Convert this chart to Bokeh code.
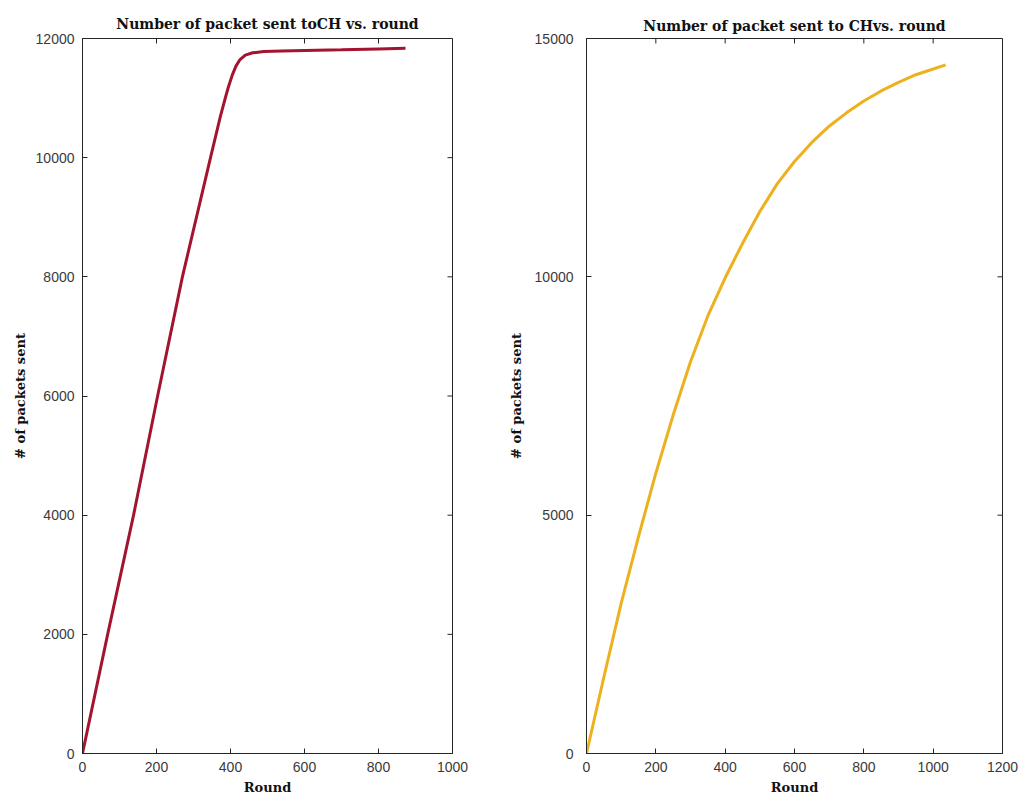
import math
from bokeh.plotting import figure
from bokeh.layouts import row
from bokeh.models import Range1d, FixedTicker
from bokeh.embed import file_html
from bokeh.resources import INLINE

# Left chart data
left_round = [0, 68, 138, 203, 270, 346, 373, 385, 395, 405, 415, 425, 440, 460, 490, 540, 600, 700, 800, 873]
left_packets = [0, 2000, 4000, 6000, 8000, 10000, 10700, 10980, 11200, 11390, 11540, 11640, 11720, 11760, 11780, 11792, 11800, 11810, 11825, 11835]

# Right chart data
right_round = [0, 50, 100, 150, 200, 250, 300, 350, 400, 450, 500, 550, 600, 650, 700, 750, 800, 850, 900, 950, 1000, 1036]
right_packets = [0, 1600, 3150, 4550, 5880, 7100, 8220, 9180, 9980, 10700, 11370, 11950, 12420, 12820, 13160, 13440, 13690, 13900, 14080, 14240, 14360, 14447]

left_xticks = [0, 200, 400, 600, 800, 1000]
left_yticks = [0, 2000, 4000, 6000, 8000, 10000, 12000]
right_xticks = [0, 200, 400, 600, 800, 1000, 1200]
right_yticks = [0, 5000, 10000, 15000]

AX = "#262626"
LBL = "#3a3a3a"
SERIF = "DejaVu Serif"
SANS = "Liberation Sans"


def style(p, xticks, yticks, xmax, ymax, ylab_standoff, yname_standoff, title_standoff):
    p.outline_line_color = AX
    p.outline_line_width = 1
    p.grid.visible = False
    p.background_fill_color = "white"
    p.border_fill_color = "white"
    p.title.text_font = SERIF
    p.title.text_font_size = "14px"
    p.title.text_font_style = "bold"
    p.title.text_color = "#111111"
    p.title.align = "center"
    p.title.standoff = title_standoff
    for ax in p.xaxis:
        ax.ticker = FixedTicker(ticks=xticks)
    for ax in p.yaxis:
        ax.ticker = FixedTicker(ticks=yticks)
    for ax in list(p.xaxis) + list(p.yaxis):
        ax.major_tick_in = 5
        ax.major_tick_out = 0
        ax.minor_tick_line_color = None
        ax.axis_line_color = AX
        ax.major_tick_line_color = AX
        ax.major_label_text_font = SANS
        ax.major_label_text_font_size = "14px"
        ax.major_label_text_color = LBL
        ax.major_label_standoff = 8
        ax.axis_label_text_font = SERIF
        ax.axis_label_text_font_size = "13px"
        ax.axis_label_text_font_style = "bold"
        ax.axis_label_text_color = "#111111"
        ax.axis_label_standoff = 5
    for ax in p.yaxis:
        ax.major_label_standoff = ylab_standoff
        ax.axis_label_standoff = yname_standoff
    # mirrored inward ticks on top and right edges (MATLAB box style)
    p.ray(x=xticks, y=[ymax] * len(xticks), length=5, length_units="screen",
          angle=-math.pi / 2, line_color=AX, line_width=1)
    p.ray(x=[xmax] * len(yticks), y=yticks, length=5, length_units="screen",
          angle=math.pi, line_color=AX, line_width=1)


p1 = figure(width=500, height=804, output_backend="svg", toolbar_location=None,
            x_range=Range1d(0, 1000), y_range=Range1d(0, 12000),
            title="Number of packet sent toCH vs. round",
            min_border_left=82, min_border_right=48, min_border_top=38, min_border_bottom=51)
p1.xaxis.axis_label = "Round"
p1.yaxis.axis_label = "# of packets sent"
p1.line(left_round, left_packets, line_color="#A2142F", line_width=3)
style(p1, left_xticks, left_yticks, 1000, 12000, 8, 5, 13)

p2 = figure(width=531, height=804, output_backend="svg", toolbar_location=None,
            x_range=Range1d(0, 1200), y_range=Range1d(0, 15000),
            title="Number of packet sent to CHvs. round",
            min_border_left=86, min_border_right=29, min_border_top=38, min_border_bottom=51)
p2.xaxis.axis_label = "Round"
p2.yaxis.axis_label = "# of packets sent"
p2.line(right_round, right_packets, line_color="#EDB120", line_width=3)
style(p2, right_xticks, right_yticks, 1200, 15000, 13, 8, 10)

layout = row(p1, p2)
open("out.html", "w").write(file_html(layout, INLINE))
